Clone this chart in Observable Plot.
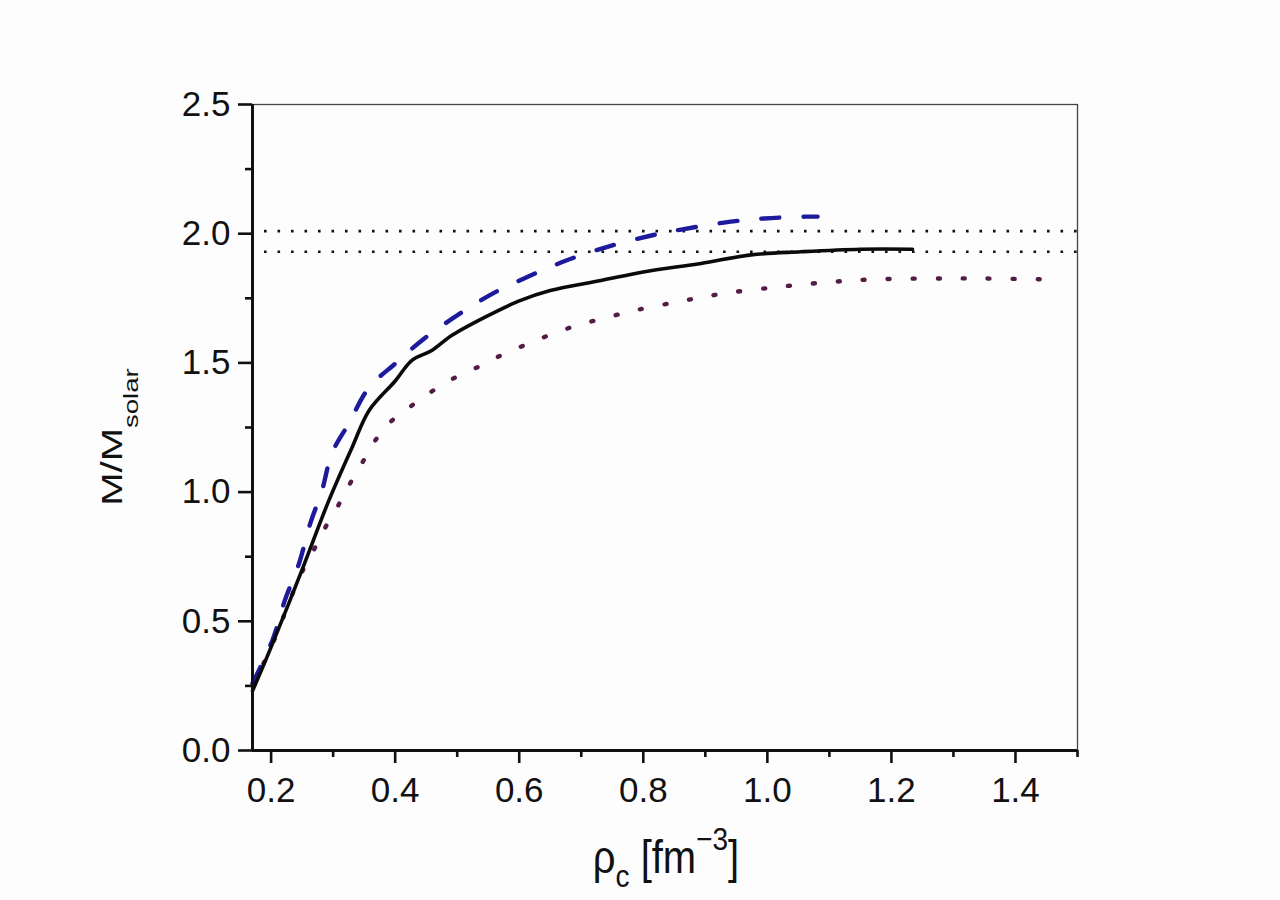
<!DOCTYPE html>
<html>
<head>
<meta charset="utf-8">
<script src="https://cdn.jsdelivr.net/npm/d3@7"></script>
<script src="https://cdn.jsdelivr.net/npm/@observablehq/plot@0.6"></script>
<style>
  html, body { margin: 0; padding: 0; background: #fdfdfe; }
  #chart { width: 1280px; height: 900px; }
</style>
</head>
<body>
<div id="chart"></div>
<script>
// ---- data ----
const rhoSolid = [0.17, 0.2, 0.25, 0.293, 0.33, 0.358, 0.4, 0.427, 0.459, 0.491, 0.544, 0.6, 0.65, 0.732, 0.8, 0.893, 0.974, 1.054, 1.15, 1.234];
const massSolid = [0.23, 0.40, 0.70, 0.967, 1.17, 1.316, 1.43, 1.51, 1.548, 1.606, 1.676, 1.74, 1.78, 1.819, 1.852, 1.885, 1.918, 1.93, 1.94, 1.94];

const rhoDashed = [0.17, 0.202, 0.222, 0.245, 0.263, 0.282, 0.298, 0.325, 0.358, 0.4, 0.443, 0.507, 0.56, 0.62, 0.68, 0.749, 0.813, 0.861, 0.93, 0.995, 1.062, 1.081];
const massDashed = [0.26, 0.426, 0.58, 0.724, 0.878, 1.006, 1.15, 1.265, 1.405, 1.497, 1.587, 1.695, 1.772, 1.84, 1.90, 1.954, 1.993, 2.016, 2.043, 2.059, 2.066, 2.066];

const rhoDotted = [0.17, 0.2, 0.247, 0.266, 0.282, 0.311, 0.33, 0.35, 0.37, 0.395, 0.427, 0.456, 0.494, 0.535, 0.567, 0.62, 0.68, 0.753, 0.794, 0.85, 0.893, 0.93, 1.01, 1.091, 1.17, 1.29, 1.37, 1.46];
const massDotted = [0.25, 0.40, 0.677, 0.762, 0.84, 0.96, 1.045, 1.126, 1.207, 1.277, 1.335, 1.385, 1.44, 1.486, 1.525, 1.58, 1.635, 1.683, 1.707, 1.734, 1.753, 1.769, 1.792, 1.811, 1.823, 1.827, 1.826, 1.823];

const refMasses = [2.01, 1.93];

const xMajorTicks = [0.2, 0.4, 0.6, 0.8, 1.0, 1.2, 1.4];
const xMinorTicks = [0.3, 0.5, 0.7, 0.9, 1.1, 1.3, 1.5];
const yMajorTicks = [0.0, 0.5, 1.0, 1.5, 2.0, 2.5];
const yMinorTicks = [0.25, 0.75, 1.25, 1.75, 2.25];

const toRows = (xs, ys) => xs.map((x, i) => ({x, y: ys[i]}));
const solid = toRows(rhoSolid, massSolid);
const dashed = toRows(rhoDashed, massDashed);
const dotted = toRows(rhoDotted, massDotted);

const FONT = "'Liberation Sans', Arial, sans-serif";
const xMin = 0.17, xMax = 1.5;

const plot = Plot.plot({
  width: 1280,
  height: 900,
  marginLeft: 252,
  marginRight: 203,
  marginTop: 104,
  marginBottom: 150,
  style: {fontFamily: FONT, background: "transparent", color: "#111"},
  x: {domain: [xMin, xMax], label: null},
  y: {domain: [0, 2.5], label: null},
  marks: [
    Plot.frame({stroke: "#444", strokeWidth: 1.3}),
    Plot.ruleY(refMasses, {stroke: "#111", strokeWidth: 2.6, strokeDasharray: "2.6,10.9", strokeDashoffset: -12}),
    Plot.line(dotted, {x: "x", y: "y", stroke: "#531c47", strokeWidth: 4.4, strokeDasharray: "2,23", strokeLinecap: "round", curve: "catmull-rom"}),
    Plot.line(dashed, {x: "x", y: "y", stroke: "#1d1b9c", strokeWidth: 4.4, strokeDasharray: "18,24", strokeLinecap: "round", curve: "catmull-rom"}),
    Plot.line(solid, {x: "x", y: "y", stroke: "#0a0a0a", strokeWidth: 3.6, curve: "catmull-rom"}),
    Plot.ruleX([xMin], {stroke: "#111", strokeWidth: 3}),
    Plot.ruleY([0], {stroke: "#111", strokeWidth: 3}),
    Plot.axisY(yMajorTicks, {tickSize: 14, tickPadding: 8, strokeWidth: 2.6, fontSize: 35, tickFormat: d3.format(".1f"), label: null}),
    Plot.axisY(yMinorTicks, {tickSize: 7, strokeWidth: 2.6, tickFormat: () => "", label: null}),
    Plot.axisX(xMajorTicks, {tickSize: 13, tickPadding: 14, strokeWidth: 2.6, fontSize: 35, tickFormat: d3.format(".1f"), label: null}),
    Plot.axisX(xMinorTicks, {tickSize: 7, strokeWidth: 2.6, tickFormat: () => "", label: null})
  ]
});

document.getElementById("chart").appendChild(plot);

// axis titles with sub/superscripts
const svg = d3.select(plot);
const yl = svg.append("text")
  .attr("transform", "translate(122,437) rotate(-90) scale(1.38,1)")
  .attr("text-anchor", "middle")
  .attr("font-family", FONT)
  .attr("font-size", 29)
  .attr("fill", "#111");
yl.append("tspan").text("M/M");
yl.append("tspan").attr("font-size", 20).attr("dy", 16).text("solar");

const xl = svg.append("text")
  .attr("transform", "translate(666,873) scale(1,1.15)")
  .attr("text-anchor", "middle")
  .attr("font-family", FONT)
  .attr("font-size", 40)
  .attr("fill", "#111");
xl.append("tspan").text("ρ");
xl.append("tspan").attr("font-size", 28).attr("dy", 12).text("c");
xl.append("tspan").attr("dy", -12).text(" [fm");
xl.append("tspan").attr("font-size", 28).attr("dy", -20).text("−3");
xl.append("tspan").attr("dy", 20).text("]");
</script>
</body>
</html>
